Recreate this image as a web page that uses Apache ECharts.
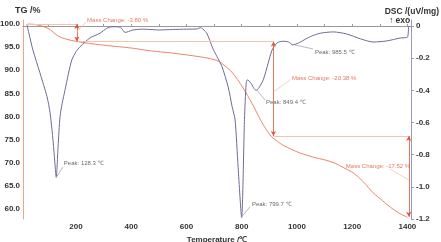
<!DOCTYPE html>
<html><head><meta charset="utf-8">
<script src="https://cdn.jsdelivr.net/npm/echarts@6/dist/echarts.min.js"></script>
<style>html,body{margin:0;padding:0;background:#fff}#c{width:441px;height:242px}</style>
</head><body><div id="c"></div>
<script>
// ---- data ----
var xLabels = [200, 400, 600, 800, 1000, 1200, 1400];
var xTicks = [100, 200, 300, 400, 500, 600, 700, 800, 900, 1000, 1100, 1200, 1300, 1400];
var tgLabels = [60, 65, 70, 75, 80, 85, 90, 95, 100];
var dscLabels = [-1.2, -1.0, -0.8, -0.6, -0.4, -0.2, 0];

var tgData = [[25,100.0],[50,99.9],[80,99.5],[106,98.8],[120,98.1],[135,97.4],[160,96.8],[203,96.2],[287,95.5],[400,94.8],[469,94.2],[550,93.7],[649,92.9],[700,92.3],[721,91.8],[740,90.9],[758,90.0],[775,88.8],[794,87.2],[812,85.5],[830,83.6],[845,82.0],[859,80.3],[880,78.0],[908,75.6],[930,74.6],[949,73.8],[980,72.9],[1011,72.1],[1060,71.2],[1102,70.6],[1138,69.9],[1170,68.9],[1204,67.8],[1240,65.9],[1276,63.5],[1310,61.8],[1338,60.4],[1370,59.1],[1400,58.2]];

var dscData = [[22,0.01],[30,-0.05],[44,-0.15],[69,-0.29],[95,-0.44],[106,-0.54],[115,-0.68],[122,-0.82],[128.3,-0.94],[135,-0.75],[142,-0.565],[150,-0.48],[160,-0.40],[172,-0.30],[185,-0.21],[200,-0.16],[214,-0.13],[250,-0.075],[287,-0.045],[311,-0.015],[330,-0.005],[350,-0.005],[365,-0.015],[377,-0.04],[390,-0.035],[406,-0.025],[440,-0.02],[468,-0.022],[500,-0.025],[550,-0.022],[600,-0.02],[640,-0.018],[650,-0.01],[660,-0.02],[675,-0.05],[693,-0.13],[710,-0.19],[728,-0.25],[751,-0.38],[765,-0.50],[776,-0.584],[787,-0.88],[799.7,-1.19],[810,-0.58],[816,-0.36],[820,-0.335],[826,-0.34],[835,-0.36],[845,-0.39],[852,-0.40],[860,-0.39],[878,-0.335],[896,-0.23],[910,-0.15],[928,-0.105],[950,-0.095],[970,-0.1],[985.5,-0.118],[1000,-0.11],[1012,-0.1],[1050,-0.065],[1085,-0.045],[1132,-0.037],[1180,-0.05],[1230,-0.08],[1276,-0.1],[1326,-0.093],[1373,-0.075],[1400,-0.07],[1404,0.0]];

// mass-change annotations (TG coordinates)
var massSteps = [[203,100.0,96.2],[915,96.2,75.8],[1405,75.8,58.3]];
var massLevels = [[25,203,100.0],[203,915,96.2],[915,1405,75.8]];
var massTexts = [[240,100.86,'Mass Change: -3.80 %','left'],[982,88.3,'Mass Change: -20.38 %','left'],[1410,69.3,'Mass Change: -17.52 %','right']];
var massLeaders = [[203,98.27,236,100.43],[915,85.3,975,87.9],[1337,68.65,1405,66.27]];

// peak annotations (DSC coordinates)
var peakTexts = [[156,-0.857,'Peak: 128.3 ℃'],[837,-1.106,'Peak: 799.7 ℃'],[888,-0.472,'Peak: 849.4 ℃'],[1065,-0.161,'Peak: 985.5 ℃']];
var peakLeaders = [[127.5,-0.944,152.8,-0.876],[797,-1.193,830,-1.124],[855,-0.398,884,-0.46],[993,-0.118,1058,-0.143]];

// ---- chart ----
var RED = '#e0553a', TGC = '#ee8468', DSCC = '#6c6c98', LIGHT = '#f6c3ad';
var chart = echarts.init(document.getElementById('c'), null, {renderer:'canvas'});

var stepLines = massSteps.map(function(s){return [{coord:[s[0],s[1]]},{coord:[s[0],s[2]]}];});
var levelLines = massLevels.map(function(s){return [{coord:[s[0],s[2]]},{coord:[s[1],s[2]]}];});
var mLeadLines = massLeaders.map(function(s){return [{coord:[s[0],s[1]]},{coord:[s[2],s[3]]}];});
var pLeadLines = peakLeaders.map(function(s){return [{coord:[s[0],s[1]]},{coord:[s[2],s[3]]}];});

var option = {
  animation: false,
  title: [
    {text:'TG /%', left:10, top:1, textStyle:{fontFamily:'Liberation Sans', fontSize:9, fontWeight:'bold', color:'#333'}},
    {text:'DSC /(uV/mg)', right:-3, top:2, textStyle:{fontFamily:'Liberation Sans', fontSize:8.5, fontWeight:'bold', color:'#333'}},
    {text:'↑ exo', left:384, top:11, textStyle:{fontFamily:'Liberation Sans', fontSize:8.5, fontWeight:'bold', color:'#333'}}
  ],
  grid: {left:23, right:30, top:20, bottom:23, outerBoundsMode:'none', containLabel:false},
  xAxis: {
    type:'value', min:8, max:1413,
    name:'Temperature /℃', nameLocation:'middle', nameGap:15,
    nameTextStyle:{fontFamily:'Liberation Sans', fontSize:8, fontWeight:'bold', color:'#333'},
    axisLine:{lineStyle:{color:'#999', width:1}},
    axisTick:{show:true, inside:true, length:2, customValues:xTicks, lineStyle:{color:'#999'}},
    axisLabel:{customValues:xLabels, margin:4, formatter:function(v){return String(v);}, fontFamily:'Liberation Sans', fontSize:8, fontWeight:'bold', color:'#333'},
    splitLine:{show:false}
  },
  yAxis: [
    {type:'value', min:57.84, max:100.86, position:'left',
     axisLine:{show:true, lineStyle:{color:'#f0a587', width:1}},
     axisTick:{show:false, customValues:tgLabels},
     axisLabel:{customValues:tgLabels, margin:3, formatter:function(v){return v.toFixed(1);}, fontFamily:'Liberation Sans', fontSize:8, fontWeight:'bold', color:'#333'},
     splitLine:{show:false}},
    {type:'value', min:-1.2, max:0.037, position:'right',
     axisLine:{show:true, lineStyle:{color:'#9a9ab8', width:1}},
     axisTick:{show:true, length:3, customValues:dscLabels, lineStyle:{color:'#9a9ab8'}},
     axisLabel:{customValues:dscLabels, margin:5, formatter:function(v){return Math.abs(v)<1e-9?'0':v.toFixed(1);}, fontFamily:'Liberation Sans', fontSize:8, fontWeight:'bold', color:'#333'},
     splitLine:{show:false}}
  ],
  series: [
    {type:'line', name:'TG', yAxisIndex:0, data:tgData, showSymbol:false, smooth:0.3,
     lineStyle:{color:TGC, width:1}, z:3,
     markLine:{silent:true, symbol:['none','none'], label:{show:false},
       data: levelLines, lineStyle:{color:LIGHT, width:1, type:'solid'}}},
    {type:'line', name:'steps', yAxisIndex:0, data:[], 
     markLine:{silent:true, symbol:['arrow','arrow'], symbolSize:[4,5], label:{show:false},
       data: stepLines, lineStyle:{color:RED, width:0.8, type:'solid'}}},
    {type:'line', name:'mleads', yAxisIndex:0, data:[],
     markLine:{silent:true, symbol:['none','none'], label:{show:false},
       data: mLeadLines, lineStyle:{color:LIGHT, width:0.8, type:'solid'}}},
    {type:'scatter', name:'mtext', yAxisIndex:0, symbolSize:0, silent:true,
     data: massTexts.map(function(t){return {value:[t[0],t[1]], label:{align:t[3]}, name:t[2]};}),
     label:{show:true, position:'inside', formatter:function(p){return p.name;}, fontFamily:'Liberation Sans', fontSize:6, color:RED, verticalAlign:'middle'}},
    {type:'line', name:'DSC', yAxisIndex:1, data:dscData, showSymbol:false, smooth:0.25,
     lineStyle:{color:DSCC, width:1}, z:4},
    {type:'line', name:'pleads', yAxisIndex:1, data:[],
     markLine:{silent:true, symbol:['none','none'], label:{show:false},
       data: pLeadLines, lineStyle:{color:'#9a9ab0', width:0.7, type:'solid'}}},
    {type:'scatter', name:'ptext', yAxisIndex:1, symbolSize:0, silent:true,
     data: peakTexts.map(function(t){return {value:[t[0],t[1]], name:t[2]};}),
     label:{show:true, position:'inside', align:'left', verticalAlign:'middle', formatter:function(p){return p.name;}, fontFamily:'Liberation Sans', fontSize:6, color:'#444'}}
  ]
};
chart.setOption(option);
</script>
</body></html>
